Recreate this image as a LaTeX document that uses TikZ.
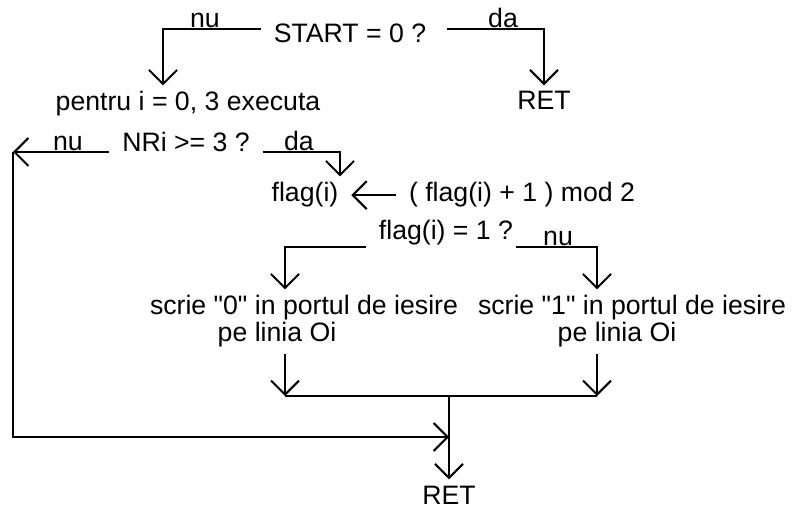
\documentclass[tikz,border=0pt]{standalone}
\usepackage{fontspec}
\setmainfont{Liberation Sans}[Ligatures=TeXOff]
\usetikzlibrary{arrows.meta,calc}
\begin{document}
\begin{tikzpicture}[x=0.75pt, y=-0.75pt, line width=1.5pt,
	font=\fontsize{20}{24}\selectfont,
	every node/.style={anchor=base, inner xsep=9pt, inner ysep=4pt},
	flow/.style={-{Straight Barb[length=10.5pt,width=21pt]}}]
	\useasboundingbox (0,0) rectangle (792,509);
	%texts
	\node (start) at (350,43) {START = 0 ?};
	\node (nuA) at (205,28) {nu};
	\node (daA) at (503,28) {da};
	\node (pentru) at (188,111) {pentru i = 0, 3 executa};
	\node (ret1) at (544,110) {RET};
	\node (nri) at (186,152) {NRi >= 3 ?};
	\node (nuB) at (68,151) {nu};
	\node (daB) at (299,151) {da};
	\node (flag1) at (305,202) {flag(i)};
	\node (expr) at (522,202) {( flag(i) + 1 ) mod 2};
	\node (flag2) at (446,240) {flag(i) = 1 ?};
	\node (nuC) at (558,246) {nu};
	\node (scrie0) at (304,315) {scrie "0" in portul de iesire};
	\node (linia0) at (277,342) {pe linia Oi};
	\node (scrie1) at (632,315) {scrie "1" in portul de iesire};
	\node (linia1) at (617,342) {pe linia Oi};
	\node (ret2) at (449,504) {RET};
	%corners
	\coordinate (cnu) at (163,29);
	\coordinate (cda) at (544,29);
	\coordinate (cnri) at (13,152);
	\coordinate (cdb) at (340,152);
	\coordinate (c0) at (285,247);
	\coordinate (c1) at (597,247);
	\coordinate (j0) at (285,396);
	\coordinate (j1) at (597,396);
	\coordinate (jm) at (449,396);
	\coordinate (cloop) at (449,437);
	%branches
	\draw[flow] (start.west |- cnu) -- (cnu) -- (pentru.north -| cnu);
	\draw[flow] ($(start.east |- cda)+(8,0)$) -- (cda) -- (ret1.north);
	\draw[flow] (nri.base west) -- (cnri);
	\draw[flow] (nri.base east) -- (cdb) -- (flag1.north -| cdb);
	\draw[flow] (expr.west) -- (flag1.east);
	\draw[flow] (flag2.west |- c0) -- (c0) -- (scrie0.north -| c0);
	\draw[flow] ($(flag2.east |- c1)+(-10,0)$) -- (c1) -- (scrie1.north -| c1);
	%join
	\draw[flow] (linia0.south -| j0) -- (j0);
	\draw[flow] (linia1.south -| j1) -- (j1);
	\draw (j0) -- (j1);
	\draw[flow] (jm) -- (ret2.north);
	%loop
	\draw[flow] (cnri) |- (cloop);
\end{tikzpicture}
\end{document}
